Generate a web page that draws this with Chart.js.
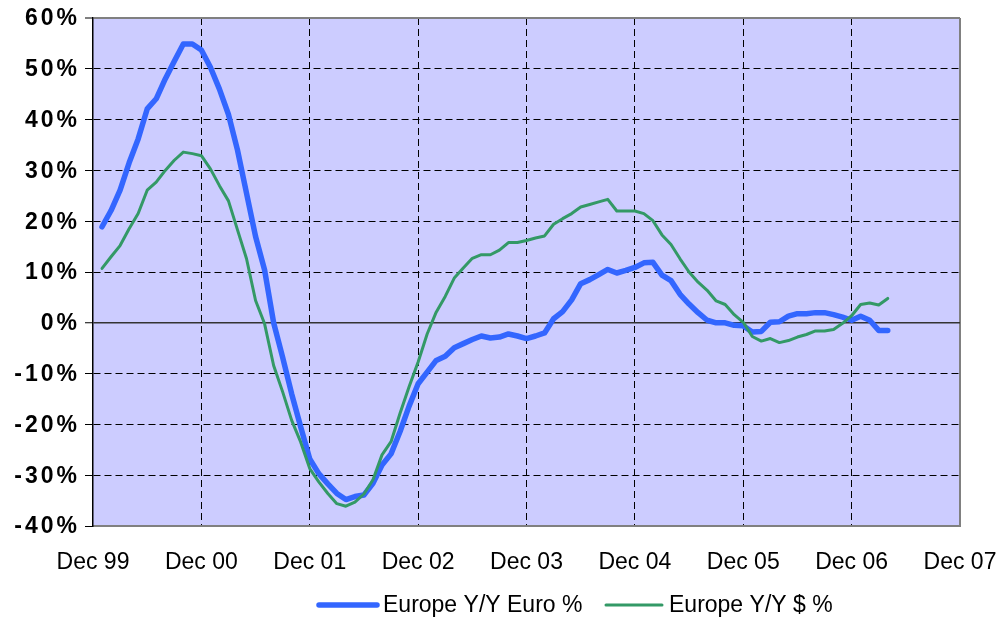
<!DOCTYPE html>
<html><head><meta charset="utf-8">
<script src="https://cdn.jsdelivr.net/npm/chart.js@4"></script>
<style>html,body{margin:0;padding:0;background:#fff;}canvas{display:block;}</style>
</head><body>
<canvas id="c" width="1002" height="618"></canvas>
<script>
// ---- data ----
const xTickLabels = ['Dec 99','Dec 00','Dec 01','Dec 02','Dec 03','Dec 04','Dec 05','Dec 06','Dec 07'];
const yTickLabels = ['-40%','-30%','-20%','-10%','0%','10%','20%','30%','40%','50%','60%'];
const seriesNames = ['Europe Y/Y Euro %','Europe Y/Y $ %'];
const firstMonth = 1; // Jan 00, counted in months from Dec 99
const euroYoY = [
  18.9, 22.1, 26.1, 31.5, 36.2, 42.1, 44.1, 48.0, 51.5, 54.9,
  54.9, 53.7, 50.3, 46.0, 41.0, 34.0, 25.5, 17.0, 10.4, 0.0,
  -6.8, -14.0, -20.5, -26.8, -29.7, -31.7, -33.6, -34.8, -34.2, -33.9,
  -31.6, -28.0, -25.8, -21.4, -16.4, -12.0, -9.7, -7.4, -6.6, -4.9,
  -4.1, -3.3, -2.6, -3.0, -2.8, -2.2, -2.6, -3.1, -2.6, -2.0,
  0.8, 2.2, 4.5, 7.7, 8.5, 9.5, 10.5, 9.8, 10.3, 10.9,
  11.8, 11.9, 9.4, 8.3, 5.6, 3.7, 2.0, 0.5, 0.0, 0.0,
  -0.5, -0.6, -1.8, -1.7, 0.1, 0.2, 1.3, 1.8, 1.8, 2.0,
  2.0, 1.6, 1.1, 0.5, 1.3, 0.5, -1.5, -1.5
];
const dollarYoY = [
  10.7, 13.0, 15.2, 18.5, 21.5, 26.1, 27.7, 30.0, 32.0, 33.6,
  33.3, 32.9, 30.3, 27.0, 24.0, 18.3, 12.6, 4.4, -0.2, -8.4,
  -13.6, -19.2, -23.5, -28.7, -31.3, -33.6, -35.6, -36.1, -35.3, -33.7,
  -30.9, -26.0, -23.4, -17.8, -12.6, -7.7, -2.2, 2.1, 5.2, 8.8,
  10.8, 12.7, 13.4, 13.4, 14.3, 15.8, 15.8, 16.2, 16.7, 17.1,
  19.4, 20.5, 21.5, 22.8, 23.3, 23.8, 24.3, 22.0, 22.0, 22.0,
  21.5, 20.1, 17.3, 15.4, 12.6, 10.0, 8.0, 6.4, 4.3, 3.6,
  1.6, 0.1, -2.7, -3.6, -3.1, -3.9, -3.5, -2.8, -2.3, -1.6,
  -1.6, -1.3, -0.1, 1.4, 3.6, 3.9, 3.5, 4.8
];

// ---- styling ----
const FONT = '"Liberation Sans", Arial, sans-serif';
const BLUE = '#3366FF', GREEN = '#339966';
const xMax = (xTickLabels.length - 1) * 12;

const toPoints = arr => arr.map((v, i) => ({x: firstMonth + i, y: v}));

const plotBg = {
  id: 'plotBg',
  beforeDraw(chart) {
    const {ctx, chartArea: a} = chart;
    ctx.save();
    ctx.fillStyle = '#CCCCFF';
    ctx.fillRect(a.left, a.top, a.right - a.left, a.bottom - a.top);
    ctx.restore();
  }
};

const yLabels = {
  id: 'yLabels',
  afterDraw(chart) {
    const {ctx} = chart;
    const ys = chart.scales.y;
    ctx.save();
    ctx.font = 'bold 23px ' + FONT;
    try { ctx.letterSpacing = '3px'; } catch (e) {}
    ctx.fillStyle = '#000';
    ctx.textAlign = 'right';
    ctx.textBaseline = 'middle';
    ys.ticks.forEach(t => {
      const idx = Math.round((t.value - ys.min) / 10);
      const py = ys.getPixelForValue(t.value);
      ctx.fillText(yTickLabels[idx], ys.right - 16 + 3, py + 1);
    });
    ctx.restore();
  }
};

const legendDraw = {
  id: 'legendDraw',
  afterDraw(chart) {
    const {ctx} = chart;
    const items = [
      {x1: 319, x2: 377, tx: 383},
      {x1: 606, x2: 662, tx: 669}
    ];
    ctx.save();
    ctx.font = '23px ' + FONT;
    ctx.fillStyle = '#000';
    ctx.textBaseline = 'middle';
    ctx.textAlign = 'left';
    chart.data.datasets.forEach((ds, i) => {
      const it = items[i];
      ctx.strokeStyle = ds.borderColor;
      ctx.lineWidth = ds.borderWidth;
      ctx.lineCap = 'round';
      ctx.beginPath();
      ctx.moveTo(it.x1, 605);
      ctx.lineTo(it.x2, 605);
      ctx.stroke();
      ctx.fillText(ds.label, it.tx, 606);
    });
    ctx.restore();
  }
};

const val = c => (c.tick ? c.tick.value : null);

new Chart(document.getElementById('c'), {
  type: 'line',
  data: {
    datasets: [
      {label: seriesNames[0], data: toPoints(euroYoY), borderColor: BLUE, borderWidth: 5.5,
       pointRadius: 0, tension: 0, borderJoinStyle: 'round', borderCapStyle: 'round', order: 1},
      {label: seriesNames[1], data: toPoints(dollarYoY), borderColor: GREEN, borderWidth: 3,
       pointRadius: 0, tension: 0, borderJoinStyle: 'round', borderCapStyle: 'round', order: 0}
    ]
  },
  options: {
    responsive: false,
    animation: false,
    devicePixelRatio: 1,
    layout: {padding: {left: 0, right: 42, top: 18, bottom: 0}},
    plugins: {legend: {display: false}, tooltip: {enabled: false}},
    scales: {
      x: {
        type: 'linear', min: 0, max: xMax,
        ticks: {stepSize: 12, autoSkip: false, maxRotation: 0, padding: 23,
          font: {family: FONT, size: 23}, color: '#000',
          callback: v => xTickLabels[v / 12]},
        grid: {
          drawTicks: false,
          color: c => val(c) === 0 ? 'rgba(0,0,0,0)' : (val(c) === xMax ? '#808080' : '#000'),
          lineWidth: c => val(c) === xMax ? 2 : 1
        },
        border: {display: true, color: '#808080', width: 2,
          dash: c => (val(c) === 0 || val(c) === xMax) ? [] : [7, 4]},
        afterFit: s => { s.height = 618 - 526; s.paddingLeft = 0; s.paddingRight = 0; }
      },
      y: {
        min: -40, max: 60,
        ticks: {stepSize: 10, display: false},
        grid: {
          drawTicks: true, tickLength: 8, tickColor: '#000', tickWidth: 1, tickBorderDash: [],
          color: c => val(c) === -40 ? 'rgba(0,0,0,0)' : (val(c) === 60 ? '#808080' : (val(c) === 0 ? '#333' : '#000')),
          lineWidth: c => val(c) === 60 ? 2 : (val(c) === 0 ? 1.5 : 1)
        },
        border: {display: true, color: '#000', width: 1.5,
          dash: c => (val(c) === 0 || val(c) === 60 || val(c) === -40) ? [] : [7, 4]},
        afterFit: s => { s.width = 93; s.paddingTop = 0; s.paddingBottom = 0; }
      }
    }
  },
  plugins: [plotBg, yLabels, legendDraw]
});
</script>
</body></html>
